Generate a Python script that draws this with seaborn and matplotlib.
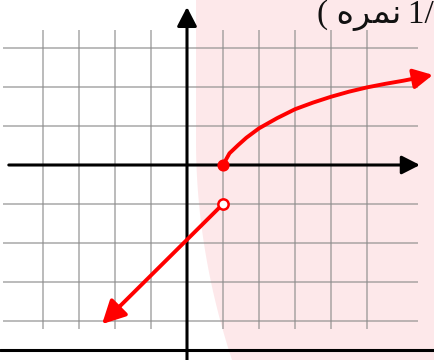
import numpy as np
import matplotlib
matplotlib.use("Agg")
import matplotlib.pyplot as plt
import seaborn as sns

sns.set_style("white")
plt.rcParams['font.family'] = ['Liberation Serif', 'DejaVu Sans']

# values (grid units)
# left piece: straight line, open circle at (1, -1), arrow going down-left
line_x = [1.0, -2.36]
line_y = [-1.0, -4.08]

# right piece: curve starting with a filled dot at (1, 0), arrow going up-right
curve_x = [1.0, 1.18, 1.42, 1.65, 2.0, 2.5, 3.0, 3.5, 4.0, 4.5, 5.0, 5.5, 6.0, 6.5, 6.83]
curve_y = [0.0, 0.30, 0.51, 0.70, 0.94, 1.20, 1.43, 1.60, 1.75, 1.88, 1.99, 2.08, 2.16, 2.25, 2.31]

open_pt = (1, -1)
closed_pt = (1, 0)

grid_x = [-4, -3, -2, -1, 1, 2, 3, 4, 5]
grid_y = [3, 2, 1, -1, -2, -3, -4]

title_text = "( \ufee9\ufeae\ufee4\ufee7\u20091/"

RED = '#ff0000'
PINK = '#fde8ea'

fig = plt.figure(figsize=(4.35, 3.6), dpi=100)
ax = fig.add_axes([0, 0, 1, 1])
ax.set_xlim(-187 / 36, (435 - 187) / 36)
ax.set_ylim(-(360 - 165) / 39, 165 / 39)
ax.axis('off')

# pink background on the right side (scan artefact of the original page)
ypx = np.linspace(0, 360, 200)
xpx = 196 + 36 * np.clip((ypx - 140) / 220, 0, None) ** 2
ax.fill_betweenx((165 - ypx) / 39, (xpx - 187) / 36, 8, color=PINK, lw=0, zorder=0)

# grid
ax.vlines(grid_x, -4.2, 3.45, color='#8c8c8c', lw=1.1, alpha=0.75, zorder=1)
ax.hlines(grid_y, -5.1, 6.42, color='#8c8c8c', lw=1.1, alpha=0.75, zorder=1)

# axes with arrows
ax.annotate('', xy=(6.47, 0), xytext=(-4.95, 0),
            arrowprops=dict(arrowstyle='-|>,head_length=0.55,head_width=0.28',
                            lw=2.2, color='black', mutation_scale=20,
                            shrinkA=0, shrinkB=0), zorder=2)
ax.annotate('', xy=(0, 4.05), xytext=(0, -5.3),
            arrowprops=dict(arrowstyle='-|>,head_length=0.58,head_width=0.3',
                            lw=2.2, color='black', mutation_scale=20,
                            shrinkA=0, shrinkB=0), zorder=2)
ax.axhline(-4.74, color='black', lw=2.2, zorder=2)

# red pieces
sns.lineplot(x=[line_x[0], line_x[1] + 0.3], y=[line_y[0], line_y[1] + 0.28],
             color=RED, lw=2.8, sort=False, ax=ax, zorder=3)
ax.annotate('', xy=(line_x[1], line_y[1]), xytext=(line_x[1] + 0.5, line_y[1] + 0.46),
            arrowprops=dict(arrowstyle='-|>,head_length=0.7,head_width=0.36',
                            lw=2.8, color=RED, mutation_scale=20,
                            shrinkA=0, shrinkB=0), zorder=3)

sns.lineplot(x=curve_x[:-1], y=curve_y[:-1], color=RED, lw=2.8, sort=False, ax=ax, zorder=3)
ax.annotate('', xy=(curve_x[-1], curve_y[-1]), xytext=(curve_x[-2], curve_y[-2]),
            arrowprops=dict(arrowstyle='-|>,head_length=0.58,head_width=0.3',
                            lw=2.8, color=RED, mutation_scale=20,
                            shrinkA=0, shrinkB=0), zorder=3)

ax.scatter([closed_pt[0]], [closed_pt[1]], s=60, color=RED, zorder=4)
ax.scatter([open_pt[0]], [open_pt[1]], s=55, facecolor='white', edgecolor=RED,
           linewidth=1.8, zorder=4)

ax.text(6.86, 3.63, title_text, fontsize=24, ha='right', va='baseline', color='#111111')

fig.savefig('out.png', dpi=100)
